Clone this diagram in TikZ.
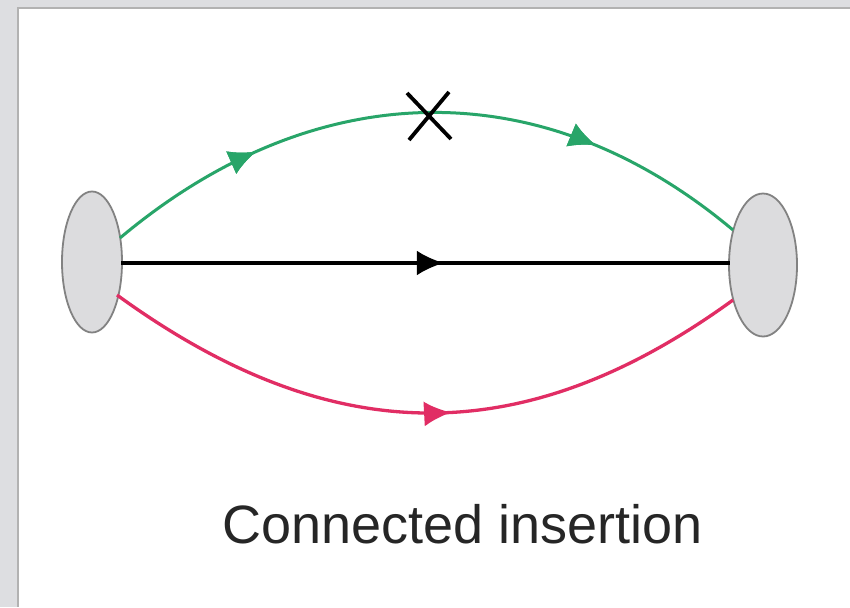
\documentclass[tikz,border=0pt]{standalone}
\usepackage{fontspec}
\setmainfont{Liberation Sans}
\usetikzlibrary{arrows.meta,decorations.markings,shapes.geometric}
\definecolor{propgreen}{RGB}{40,165,105}
\definecolor{propred}{RGB}{225,45,100}
\definecolor{blobfill}{RGB}{220,220,222}
\definecolor{blobdraw}{RGB}{130,130,130}
\definecolor{frame}{RGB}{221,222,225}
\tikzset{
  blob/.style={ellipse, draw=blobdraw, line width=1.8pt, fill=blobfill, inner sep=0pt},
  prop/.style={line width=3pt},
  midarrow/.style={postaction={decorate},decoration={markings,mark=at position #1 with {\arrow{Latex[length=27pt,width=25pt]}}}},
}
\begin{document}
\begin{tikzpicture}[x=1pt,y=-1pt]
\useasboundingbox (0,0) rectangle (850,607);
\fill[frame] (0,0) rectangle (850,607);
\fill[black!30] (17,7) rectangle (850,607);
\fill[white] (19,9) rectangle (850,607);

\node[blob, minimum width=60pt, minimum height=141pt] (L) at (92,262) {};
\node[blob, minimum width=68pt, minimum height=143pt] (R) at (763,265) {};

\coordinate (Lg) at (120,238);
\coordinate (Rg) at (733,230);
\coordinate (Lr) at (117,295);
\coordinate (Rr) at (733,300);
\coordinate (Lb) at (121,263);
\coordinate (Rb) at (730,263);

% green propagator
\draw[prop, propgreen, midarrow=0.24, midarrow=0.76]
  (Lg) .. controls (313,76) and (540,68) .. (Rg);
% black propagator
\draw[prop, black, line width=3.3pt, midarrow=0.53] (Lb) -- (Rb);
% red propagator
\draw[prop, propred, line width=3.3pt, midarrow=0.54]
  (Lr) .. controls (329,449) and (521,454) .. (Rr);

% insertion cross
\coordinate (X) at (429,116);
\draw[line width=3.8pt] ([shift={(-22,-23)}]X) -- ([shift={(22,23)}]X);
\draw[line width=3.8pt] ([shift={(20,-24)}]X) -- ([shift={(-20,24)}]X);

\node[anchor=base, font=\fontsize{54}{60}\selectfont, text=black!85] (cap) at (463,543) {Connected insertion};
\end{tikzpicture}
\end{document}
